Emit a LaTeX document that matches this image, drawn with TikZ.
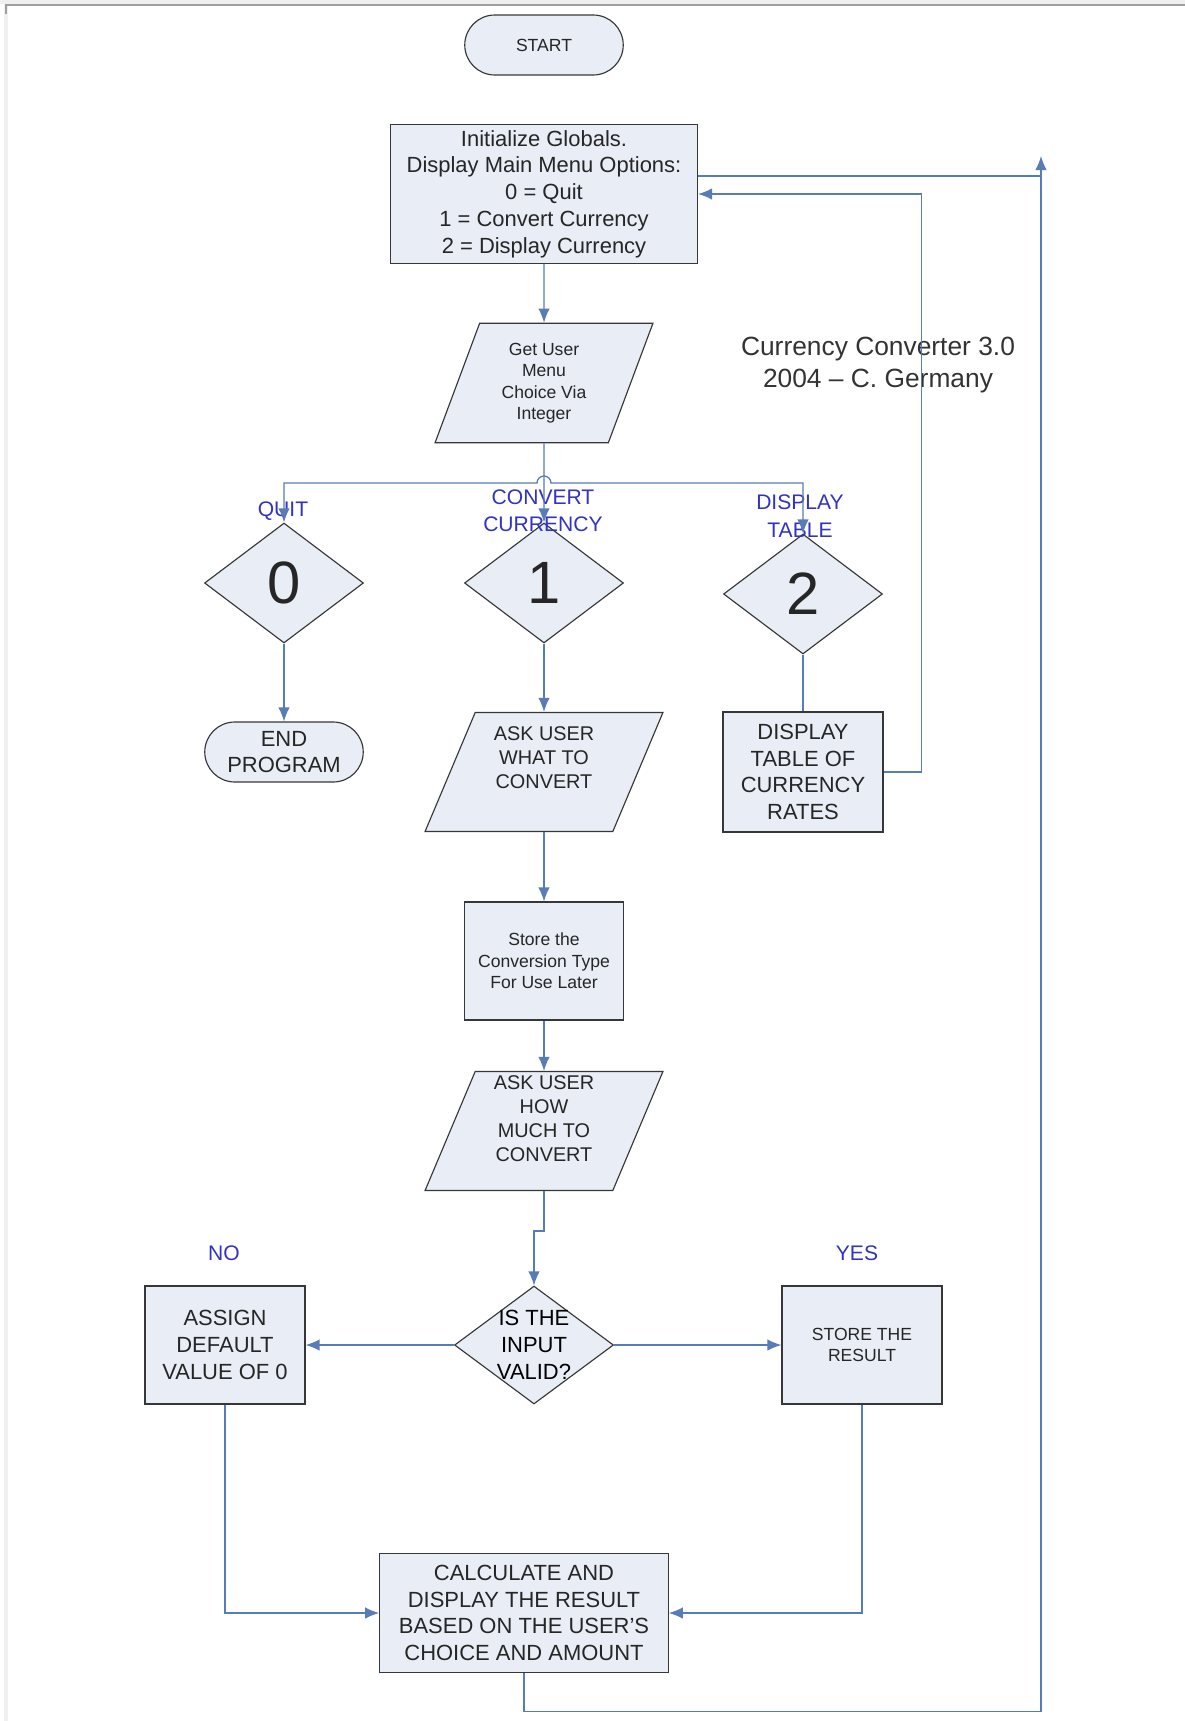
\documentclass[tikz,border=0pt]{standalone}
\usepackage{fontspec}
\setmainfont{Liberation Sans}
\usepackage{xcolor}
\usetikzlibrary{shapes.geometric, arrows.meta, calc}

\definecolor{boxfill}{RGB}{232,237,246}
\definecolor{boxline}{RGB}{55,55,55}
\definecolor{linkblue}{RGB}{88,124,182}
\definecolor{labblue}{RGB}{50,50,195}

\tikzset{
  base/.style={draw=boxline, fill=boxfill, line width=0.65pt, text=black!85, align=center, inner sep=2pt},
  procbox/.style={base, rectangle, minimum width=3.2cm, minimum height=2.36cm},
  termbox/.style={base, rectangle, rounded corners=0.6cm, minimum width=3.17cm, minimum height=1.2cm},
  iobox/.style={base, trapezium, trapezium left angle=70, trapezium right angle=110, trapezium stretches=true, minimum height=2.38cm},
  decide/.style={base, diamond, minimum width=3.18cm, minimum height=2.4cm},
  flow/.style={draw=linkblue, line width=0.75pt, >={Latex[length=8pt,width=6.5pt]}},
  choicelab/.style={text=labblue, font=\fontsize{12}{15.6}\selectfont, align=center},
  bigtxt/.style={font=\fontsize{12.5}{15.2}\selectfont},
  iotxt/.style={font=\fontsize{11.3}{13.6}\selectfont, text=black!85},
  smalltxt/.style={font=\fontsize{10}{12.2}\selectfont},
}

\begin{document}
\begin{tikzpicture}[x=0.02cm, y=-0.02cm]
        \useasboundingbox (0,0) rectangle (1185,1721);
        \fill[gray!12] (0,0) rectangle (1185,4);
        \fill[gray!12] (4,0) rectangle (8,1721);
        \draw[gray!75, line width=1.2pt] (6,14) -- (6,5) -- (1185,5);

        \node[font=\fontsize{15}{18.2}\selectfont, text=black!80, align=center] (title) at (878,365) {Currency Converter 3.0\\2004 – C. Germany};

        \node[termbox, smalltxt] (start) at (544,45) {START};
        \node[procbox, bigtxt, minimum width=6.14cm, minimum height=2.78cm] (init) at (544,194) {Initialize Globals.\\Display Main Menu Options:\\0 = Quit\\1 = Convert Currency\\2 = Display Currency};
        \node[iobox, smalltxt, minimum width=4.37cm, minimum height=2.39cm] (getuser) at (544,383) {Get User\\Menu\\Choice Via\\Integer};

        \node[decide, font=\fontsize{34}{34}\selectfont] (quit) at (284,583) {0};
        \node[decide, font=\fontsize{34}{34}\selectfont] (conv) at (544,583) {1};
        \node[decide, font=\fontsize{34}{34}\selectfont] (disp) at (803,594) {2};
        \node[choicelab] (quitlab) at (283,511) {QUIT};
        \node[choicelab] (convlab) at (543,511) {CONVERT\\CURRENCY};
        \node[choicelab] (displab) at (800,516) {DISPLAY\\TABLE};

        \node[termbox, bigtxt] (endprog) at (284,752) {END\\PROGRAM};
        \node[iobox, minimum width=4.76cm, label={[name=askwhattxt, iotxt, align=center, yshift=0.28cm]center:ASK USER\\WHAT TO\\CONVERT}] (askwhat) at (544,772) {};
        \node[procbox, bigtxt, minimum height=2.4cm] (disptab) at (803,772) {DISPLAY\\TABLE OF\\CURRENCY\\RATES};

        \node[procbox, smalltxt, minimum width=3.18cm] (store) at (544,961) {Store the\\Conversion Type\\For Use Later};
        \node[iobox, minimum width=4.76cm, label={[name=askhowtxt, iotxt, align=center, yshift=0.25cm]center:ASK USER\\HOW\\MUCH TO\\CONVERT}] (askhow) at (544,1131) {};

        \node[decide, minimum height=2.36cm, label={[name=validtxt, bigtxt, align=center]center:IS THE\\INPUT\\VALID?}] (valid) at (534,1345) {};
        \node[choicelab] (nolab) at (224,1253) {NO};
        \node[choicelab] (yeslab) at (857,1253) {YES};
        \node[procbox, bigtxt] (assign) at (225,1345) {ASSIGN\\DEFAULT\\VALUE OF 0};
        \node[procbox, smalltxt] (storeres) at (862,1345) {STORE THE\\RESULT};
        \node[procbox, bigtxt, minimum width=5.77cm, minimum height=2.39cm] (calc) at (524,1613) {CALCULATE AND\\DISPLAY THE RESULT\\BASED ON THE USER'S\\CHOICE AND AMOUNT};

        \coordinate (fork) at (544,483);
        \coordinate (looptop) at (1041,156);
        \coordinate (initout) at ($(init.east)+(0,-18)$);

        \draw[flow,->] (init.south) -- (getuser.north);
        \draw[flow,->] (getuser.south) -- (conv.north);
        \draw[flow,<->] (quit.north) |- ($(fork)+(-7,0)$) arc[start angle=180, end angle=0, radius=0.14cm] -| (disp.north);
        \draw[flow,->] (quit.south) -- (endprog.north);
        \draw[flow,->] (conv.south) -- (askwhat.north);
        \draw[flow] (disp.south) -- (disptab.north);
        \draw[flow,->] (disptab.east) -- ++(38,0) |- (init.east);
        \draw[flow,->] (askwhat.south) -- (store.north);
        \draw[flow,->] (store.south) -- (askhow.north);
        \draw[flow,->] (askhow.south) -- ++(0,40) -| (valid.north);
        \draw[flow,->] (valid.west) -- (assign.east);
        \draw[flow,->] (valid.east) -- (storeres.west);
        \draw[flow,->] (assign.south) |- (calc.west);
        \draw[flow,->] (storeres.south) |- (calc.east);
        \draw[flow,->] (calc.south) -- ++(0,38) -| (looptop);
        \draw[flow] (initout) -- (initout -| looptop);
    \end{tikzpicture}
\end{document}
